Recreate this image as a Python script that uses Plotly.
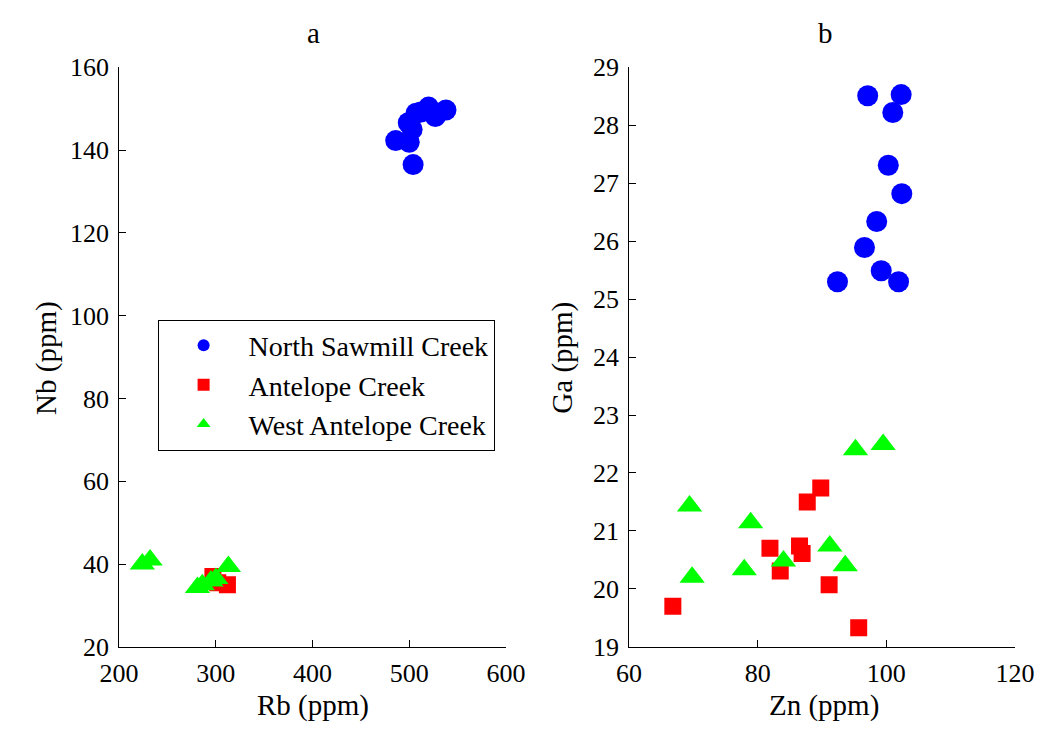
import plotly.graph_objects as go

# ---- data: panel a (Rb vs Nb) ----
ns_rb = [486, 500, 504, 499, 503, 507, 512, 520, 527, 538]
ns_nb = [142.3, 141.9, 136.5, 146.6, 145.0, 148.9, 149.2, 150.4, 148.1, 149.7]
ac_rb = [297, 302, 312]
ac_nb = [37.0, 35.5, 35.0]
wa_rb = [224, 232, 281, 286, 295, 300, 313]
wa_nb = [40.0, 41.0, 34.3, 35.0, 35.9, 36.5, 39.4]

# ---- data: panel b (Zn vs Ga) ----
ns_zn = [97.1, 102.3, 101.0, 100.3, 102.4, 98.5, 96.6, 99.2, 101.9, 92.4]
ns_ga = [28.51, 28.53, 28.22, 27.31, 26.82, 26.34, 25.89, 25.49, 25.30, 25.30]
ac_zn = [66.8, 81.9, 83.5, 86.5, 86.9, 87.7, 89.8, 91.1, 95.7]
ac_ga = [19.70, 20.70, 20.31, 20.74, 20.61, 21.50, 21.74, 20.07, 19.33]
wa_zn = [95.2, 99.5, 69.4, 78.9, 69.8, 77.9, 84.0, 91.2, 93.6]
wa_ga = [22.40, 22.49, 21.43, 21.14, 20.20, 20.33, 20.48, 20.74, 20.40]

names = ["North Sawmill Creek", "Antelope Creek", "West Antelope Creek"]
colors = ["#0000ff", "#ff0000", "#00ff00"]
symbols = ["circle", "square", "triangle-up"]
sizes = [21, 17, 22]

FONT = "Liberation Serif"
W, H = 1060, 740

fig = go.Figure()
series_a = [(ns_rb, ns_nb), (ac_rb, ac_nb), (wa_rb, wa_nb)]
series_b = [(ns_zn, ns_ga), (ac_zn, ac_ga), (wa_zn, wa_ga)]
for i, (xs, ys) in enumerate(series_a):
    fig.add_trace(go.Scatter(x=xs, y=ys, mode="markers", name=names[i],
                             marker=dict(color=colors[i], symbol=symbols[i], size=sizes[i]),
                             xaxis="x", yaxis="y", showlegend=True))
for i, (xs, ys) in enumerate(series_b):
    fig.add_trace(go.Scatter(x=xs, y=ys, mode="markers", name=names[i],
                             marker=dict(color=colors[i], symbol=symbols[i], size=sizes[i]),
                             xaxis="x2", yaxis="y2", showlegend=False))

ydom = [(H - 658.6) / H, (H - 55.5) / H]
ax_common = dict(showline=True, linecolor="black", linewidth=1, ticks="inside", ticklen=7,
                 tickcolor="black", showgrid=False, zeroline=False, mirror=False,
                 tickfont=dict(family=FONT, size=26, color="black"))

fig.update_layout(
    width=W, height=H, margin=dict(l=0, r=0, t=0, b=0),
    paper_bgcolor="white", plot_bgcolor="white",
    font=dict(family=FONT, color="black"),
    xaxis=dict(domain=[103 / W, 505 / W], range=[200, 600], tickvals=[200, 300, 400, 500, 600],
               anchor="y", ticklabelstandoff=3, **ax_common),
    yaxis=dict(domain=ydom, range=[20, 160], tickvals=list(range(20, 161, 20)),
               anchor="x", ticklabelstandoff=4, **ax_common),
    xaxis2=dict(domain=[633 / W, 1034 / W], range=[60, 120], tickvals=[60, 80, 100, 120],
                anchor="y2", ticklabelstandoff=3, **ax_common),
    yaxis2=dict(domain=ydom, range=[19, 29], tickvals=list(range(19, 30)),
                anchor="x2", ticklabelstandoff=4, **ax_common),
    legend=dict(x=143 / W, y=1 - 318 / H, xanchor="left", yanchor="top",
                bgcolor="white", bordercolor="black", borderwidth=1,
                font=dict(family=FONT, size=28, color="black"),
                itemwidth=80, tracegroupgap=0, itemsizing="constant"),
    showlegend=True,
)

ann = [
    dict(text="a", x=305 / W, y=1 - 20 / H),
    dict(text="b", x=837 / W, y=1 - 20 / H),
    dict(text="Rb (ppm)", x=305 / W, y=1 - 720 / H),
    dict(text="Zn (ppm)", x=836 / W, y=1 - 720 / H),
    dict(text="Nb (ppm)", x=28 / W, y=1 - 358 / H, textangle=-90),
    dict(text="Ga (ppm)", x=564 / W, y=1 - 358 / H, textangle=-90),
]
for a in ann:
    fig.add_annotation(xref="paper", yref="paper", showarrow=False,
                       xanchor="center", yanchor="middle",
                       font=dict(family=FONT, size=29, color="black"), **a)

fig.write_html("out.html")
